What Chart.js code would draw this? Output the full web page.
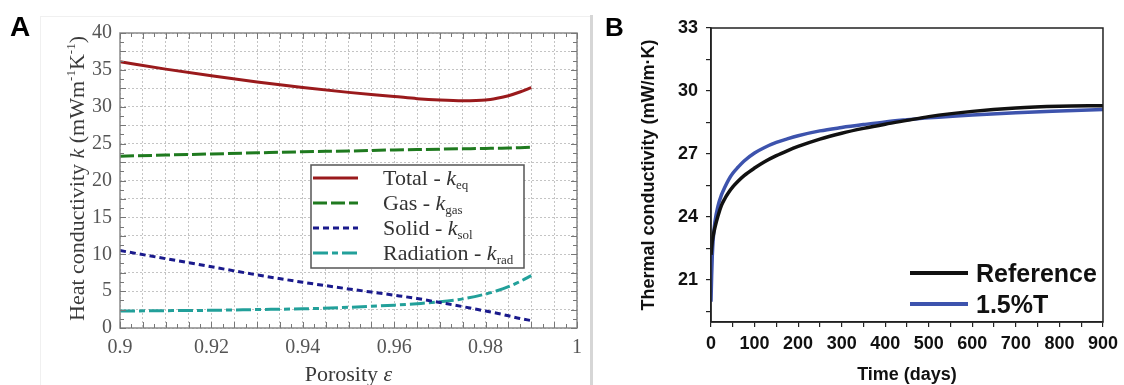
<!DOCTYPE html>
<html>
<head>
<meta charset="utf-8">
<script src="https://cdn.jsdelivr.net/npm/chart.js@4.4.0/dist/chart.umd.min.js"></script>
<style>
  html, body { margin: 0; padding: 0; background: #fff; }
  body { width: 1124px; height: 385px; position: relative; overflow: hidden; }
  canvas { position: absolute; top: 0; }
  #chartA { left: 0; }
  #chartB { left: 600px; }
  .panel-label { position: absolute; font-family: "Liberation Sans", Arial, sans-serif; font-weight: bold; line-height: 1; color: #000; }
  #labelA { left: 10px; top: 13px; font-size: 28px; }
  #labelB { left: 605px; top: 14px; font-size: 26px; }
  #sep { position: absolute; left: 590px; top: 15px; width: 3px; height: 370px; background: #d6d6d6; }
  #frameA { position: absolute; left: 40px; top: 16px; width: 550px; height: 369px; border-left: 1px solid #f0f0f0; border-top: 1px solid #f0f0f0; }
</style>
</head>
<body>
<div id="frameA"></div>
<div id="sep"></div>
<canvas id="chartA" width="590" height="385"></canvas>
<canvas id="chartB" width="524" height="385"></canvas>
<div class="panel-label" id="labelA">A</div>
<div class="panel-label" id="labelB">B</div>
<script>
// Panel A: heat conductivity vs porosity
const porosity = [0.9, 0.91, 0.92, 0.93, 0.94, 0.95, 0.96, 0.965, 0.97, 0.975, 0.98, 0.9825, 0.985, 0.9875, 0.99];
const kTotal = [36.1, 35.1, 34.2, 33.35, 32.6, 31.95, 31.4, 31.1, 30.9, 30.8, 30.9, 31.15, 31.5, 32.0, 32.6];
const kGas = [23.3, 23.45, 23.6, 23.75, 23.9, 24.0, 24.15, 24.2, 24.25, 24.3, 24.35, 24.38, 24.4, 24.45, 24.5];
const kSolid = [10.5, 9.4, 8.3, 7.2, 6.2, 5.3, 4.45, 4.0, 3.45, 2.9, 2.3, 2.0, 1.65, 1.3, 1.0];
const kRad = [2.3, 2.35, 2.4, 2.5, 2.6, 2.8, 3.1, 3.3, 3.55, 3.95, 4.6, 5.05, 5.6, 6.3, 7.1];

// Panel B: thermal conductivity vs time
const days = [0, 1.5, 3, 5, 9, 16, 24, 32, 40, 50, 62, 76, 100, 122, 150, 175, 200, 250, 300, 350, 400, 450, 500, 600, 700, 800, 900];
const kReference = [22.2, 22.55, 22.85, 23.1, 23.5, 24.05, 24.55, 24.88, 25.15, 25.43, 25.7, 25.97, 26.33, 26.62, 26.92, 27.15, 27.36, 27.71, 27.99, 28.22, 28.42, 28.6, 28.78, 29.03, 29.19, 29.27, 29.3];
const kT15 = [19.97, 21.23, 22.18, 22.93, 23.76, 24.52, 25.05, 25.43, 25.76, 26.08, 26.37, 26.67, 27.05, 27.3, 27.55, 27.72, 27.87, 28.1, 28.26, 28.4, 28.53, 28.63, 28.72, 28.86, 28.97, 29.05, 29.12];

const serif = '"Liberation Serif", "Times New Roman", serif';
const sans = '"Liberation Sans", Arial, sans-serif';

const toPoints = (xs, ys) => xs.map((x, i) => ({ x: x, y: ys[i] }));

// draws a run of text pieces; each piece: [text, font, dy]
function drawPieces(ctx, pieces, x, y, align) {
  let total = 0;
  pieces.forEach(p => { ctx.font = p[1]; total += ctx.measureText(p[0]).width; });
  let cx = align === 'center' ? x - total / 2 : x;
  ctx.textAlign = 'left';
  ctx.textBaseline = 'alphabetic';
  pieces.forEach(p => {
    ctx.font = p[1];
    ctx.fillText(p[0], cx, y + (p[2] || 0));
    cx += ctx.measureText(p[0]).width;
  });
}

const seriesA = [
  { name: 'Total - ', sub: 'eq', data: kTotal, color: '#9a1a1c', dash: [] },
  { name: 'Gas - ', sub: 'gas', data: kGas, color: '#1f7a1f', dash: [14, 4] },
  { name: 'Solid - ', sub: 'sol', data: kSolid, color: '#1a1a8c', dash: [6, 4] },
  { name: 'Radiation - ', sub: 'rad', data: kRad, color: '#22a09a', dash: [15, 4, 6, 4] }
];

const decorA = {
  id: 'decorA',
  afterDraw(chart) {
    const { ctx, chartArea: a, scales: { x, y } } = chart;
    ctx.save();
    // frame
    ctx.strokeStyle = '#8a8a8a';
    ctx.lineWidth = 1.5;
    ctx.strokeRect(a.left, a.top, a.right - a.left, a.bottom - a.top);
    // inward ticks on all four sides
    ctx.lineWidth = 1;
    ctx.strokeStyle = '#777';
    ctx.beginPath();
    for (let i = 0; i <= 40; i++) {
      const px = Math.round(x.getPixelForValue(0.9 + i * 0.0025)) + 0.5;
      const len = i % 2 === 0 ? 6 : 4;
      ctx.moveTo(px, a.bottom); ctx.lineTo(px, a.bottom - len);
      ctx.moveTo(px, a.top); ctx.lineTo(px, a.top + len);
    }
    for (let i = 0; i <= 32; i++) {
      const py = Math.round(y.getPixelForValue(i * 1.25)) + 0.5;
      const len = i % 2 === 0 ? 6 : 4;
      ctx.moveTo(a.left, py); ctx.lineTo(a.left + len, py);
      ctx.moveTo(a.right, py); ctx.lineTo(a.right - len, py);
    }
    ctx.stroke();

    // axis titles
    ctx.fillStyle = '#3a3a3a';
    const f = '22px ' + serif, fi = 'italic 22px ' + serif, fs = '13px ' + serif;
    drawPieces(ctx, [['Porosity ', f], ['\u03b5', fi]], (a.left + a.right) / 2, 381, 'center');
    ctx.save();
    ctx.translate(84, (a.top + a.bottom) / 2 - 2);
    ctx.rotate(-Math.PI / 2);
    drawPieces(ctx, [
      ['Heat conductivity ', f], ['k', fi], [' (mWm', f], ['-1', fs, -9],
      ['K', f], ['-1', fs, -9], [')', f]
    ], 0, 0, 'center');
    ctx.restore();

    // legend
    const lx = 311, ly = 165, lw = 213, lh = 103;
    ctx.fillStyle = '#fff';
    ctx.fillRect(lx, ly, lw, lh);
    ctx.strokeStyle = '#555';
    ctx.lineWidth = 1.5;
    ctx.strokeRect(lx, ly, lw, lh);
    seriesA.forEach((s, i) => {
      const ry = ly + 13 + i * 25;
      ctx.strokeStyle = s.color;
      ctx.lineWidth = 3;
      ctx.setLineDash(s.dash);
      ctx.beginPath();
      ctx.moveTo(lx + 2, ry); ctx.lineTo(lx + 47, ry);
      ctx.stroke();
      ctx.setLineDash([]);
      ctx.fillStyle = '#333';
      drawPieces(ctx, [[s.name, f], ['k', fi], [s.sub, fs, 4]], lx + 72, ry + 7, 'left');
    });
    ctx.restore();
  }
};

new Chart(document.getElementById('chartA'), {
  type: 'line',
  data: {
    datasets: seriesA.map(s => ({
      label: s.name + 'k' + s.sub,
      data: toPoints(porosity, s.data),
      borderColor: s.color,
      borderWidth: 3,
      borderDash: s.dash,
      pointRadius: 0,
      cubicInterpolationMode: 'monotone',
      fill: false
    }))
  },
  options: {
    responsive: false,
    animation: false,
    layout: { padding: { left: 0, right: 11, top: 33, bottom: 0 } },
    plugins: { legend: { display: false }, tooltip: { enabled: false } },
    scales: {
      x: {
        type: 'linear',
        min: 0.9,
        max: 1,
        afterBuildTicks: (scale) => {
          scale.ticks = Array.from({ length: 21 }, (_, i) => ({ value: 0.9 + i * 0.005 }));
        },
        afterFit: (scale) => { scale.height = 57; },
        grid: { color: '#c4c4c4', lineWidth: 1, drawTicks: false },
        border: { display: false, dash: [2, 2] },
        ticks: {
          padding: 8,
          color: '#555',
          font: { family: serif, size: 20 },
          maxRotation: 0,
          autoSkip: false,
          callback: (v) => Math.round(v * 1000) % 20 === 0 ? String(+v.toFixed(2)) : ''
        }
      },
      y: {
        type: 'linear',
        min: 0,
        max: 40,
        afterBuildTicks: (scale) => {
          scale.ticks = Array.from({ length: 17 }, (_, i) => ({ value: i * 2.5 }));
        },
        afterFit: (scale) => { scale.width = 120; },
        grid: { color: '#c4c4c4', lineWidth: 1, drawTicks: false },
        border: { display: false, dash: [2, 2] },
        ticks: {
          padding: 8,
          color: '#555',
          font: { family: serif, size: 20 },
          autoSkip: false,
          callback: (v) => v % 5 === 0 ? String(v) : ''
        }
      }
    }
  },
  plugins: [decorA]
});

const seriesB = [
  { name: 'Reference', data: kReference, color: '#111111' },
  { name: '1.5%T', data: kT15, color: '#3d53ad' }
];

const decorB = {
  id: 'decorB',
  afterDraw(chart) {
    const { ctx, chartArea: a } = chart;
    ctx.save();
    ctx.strokeStyle = '#222';
    ctx.lineWidth = 1.5;
    ctx.strokeRect(a.left, a.top, a.right - a.left, a.bottom - a.top);

    ctx.fillStyle = '#111';
    const fb = 'bold 18px ' + sans;
    drawPieces(ctx, [['Time (days)', fb]], (a.left + a.right) / 2, 380, 'center');
    ctx.save();
    ctx.translate(54, (a.top + a.bottom) / 2);
    ctx.rotate(-Math.PI / 2);
    drawPieces(ctx, [['Thermal conductivity (mW/m\u00b7K)', fb]], 0, 0, 'center');
    ctx.restore();

    // legend
    seriesB.forEach((s, i) => {
      const ry = 273 + i * 31;
      ctx.strokeStyle = s.color;
      ctx.lineWidth = 4;
      ctx.beginPath();
      ctx.moveTo(310, ry); ctx.lineTo(368, ry);
      ctx.stroke();
      ctx.fillStyle = '#111';
      drawPieces(ctx, [[s.name, 'bold 25px ' + sans]], 376, ry + 9, 'left');
    });
    ctx.restore();
  }
};

new Chart(document.getElementById('chartB'), {
  type: 'line',
  data: {
    datasets: seriesB.map(s => ({
      label: s.name,
      data: toPoints(days, s.data),
      borderColor: s.color,
      borderWidth: 3.5,
      pointRadius: 0,
      cubicInterpolationMode: 'monotone',
      fill: false
    }))
  },
  options: {
    responsive: false,
    animation: false,
    layout: { padding: { left: 0, right: 21, top: 28, bottom: 0 } },
    plugins: { legend: { display: false }, tooltip: { enabled: false } },
    scales: {
      x: {
        type: 'linear',
        min: 0,
        max: 900,
        afterBuildTicks: (scale) => {
          scale.ticks = Array.from({ length: 19 }, (_, i) => ({ value: i * 50 }));
        },
        afterFit: (scale) => { scale.height = 63; },
        grid: { drawOnChartArea: false, tickLength: 5, color: '#222', lineWidth: 1.2 },
        border: { color: '#222', width: 1.5 },
        ticks: {
          padding: 6,
          color: '#111',
          font: { family: sans, size: 18, weight: 'bold' },
          maxRotation: 0,
          autoSkip: false,
          callback: (v) => v % 100 === 0 ? String(v) : ''
        }
      },
      y: {
        type: 'linear',
        min: 19,
        max: 33,
        afterBuildTicks: (scale) => {
          scale.ticks = Array.from({ length: 10 }, (_, i) => ({ value: 19.5 + i * 1.5 }));
        },
        afterFit: (scale) => { scale.width = 111; },
        grid: { drawOnChartArea: false, tickLength: 5, color: '#222', lineWidth: 1.2 },
        border: { color: '#222', width: 1.5 },
        ticks: {
          padding: 8,
          color: '#111',
          font: { family: sans, size: 18, weight: 'bold' },
          autoSkip: false,
          callback: (v) => v % 3 === 0 ? String(v) : ''
        }
      }
    }
  },
  plugins: [decorB]
});
</script>
</body>
</html>
